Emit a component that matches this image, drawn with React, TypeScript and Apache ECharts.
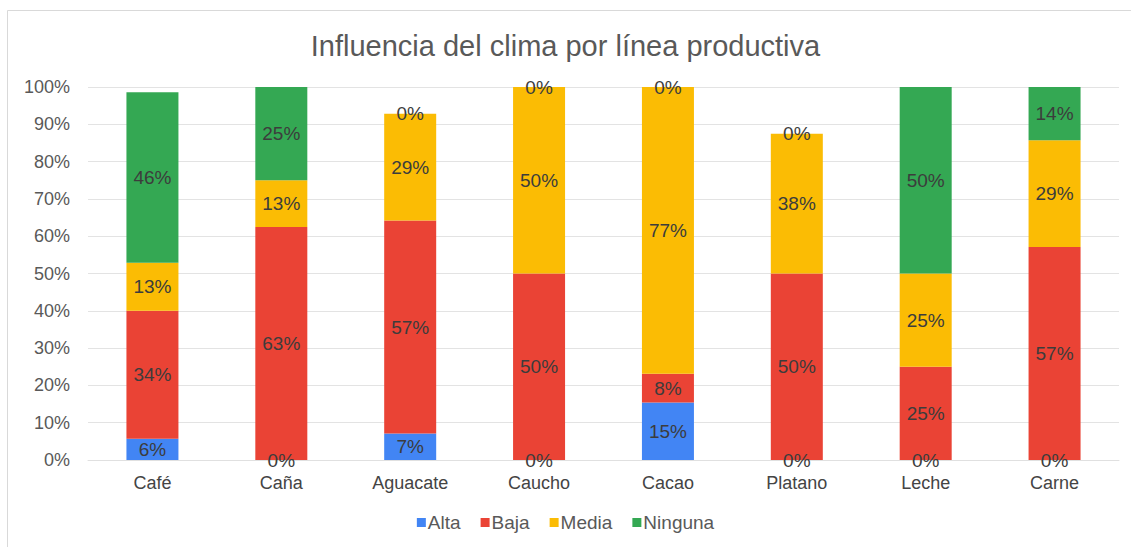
import React, { useEffect, useRef } from "react";
import * as echarts from "echarts";

// Product lines on the x axis
const categories = ["Café", "Caña", "Aguacate", "Caucho", "Cacao", "Platano", "Leche", "Carne"];

// Share of producers (%) reporting each level of climate influence
const alta = [5.7, 0, 7.1, 0, 15.4, 0, 0, 0];
const baja = [34.3, 62.5, 57.1, 50, 7.7, 50, 25, 57.1];
const media = [12.9, 12.5, 28.6, 50, 76.9, 37.5, 25, 28.6];
const ninguna = [45.7, 25, 0, 0, 0, 0, 50, 14.3];

const seriesNames = ["Alta", "Baja", "Media", "Ninguna"];
const seriesColors = ["#4285F4", "#EA4335", "#FBBC04", "#34A853"];

const FONT = "'Liberation Sans', Arial, sans-serif";

export default function App() {
  const ref = useRef<HTMLDivElement>(null);

  useEffect(() => {
    if (!ref.current) return;
    const chart = echarts.init(ref.current, null, { renderer: "svg" });
    const data = [alta, baja, media, ninguna];
    chart.setOption({
      animation: false,
      backgroundColor: "#ffffff",
      textStyle: { fontFamily: FONT },
      title: {
        text: "Influencia del clima por línea productiva",
        left: "center",
        top: 26,
        textStyle: { fontSize: 29, fontWeight: "normal", color: "#595959", fontFamily: FONT },
      },
      graphic: [
        {
          type: "rect",
          shape: { x: 7.5, y: 10.5, width: 1140, height: 560 },
          style: { fill: "none", stroke: "#d9d9d9", lineWidth: 1 },
          silent: true,
          z: -1,
        },
      ],
      legend: {
        bottom: 10,
        left: "center",
        icon: "rect",
        itemWidth: 9,
        itemHeight: 9,
        itemGap: 20,
        textStyle: { fontSize: 19, color: "#595959", fontFamily: FONT, padding: [0, 0, 0, -3] },
        data: seriesNames,
      },
      grid: { left: 88, right: 12, top: 87, bottom: 87 },
      xAxis: {
        type: "category",
        data: categories,
        axisLine: { lineStyle: { color: "#e0e0e0" } },
        axisTick: { show: false },
        axisLabel: { fontSize: 18, color: "#444444", margin: 14, fontFamily: FONT },
      },
      yAxis: {
        type: "value",
        min: 0,
        max: 100,
        interval: 10,
        axisLine: { show: false },
        axisTick: { show: false },
        axisLabel: { formatter: "{value}%", fontSize: 18, color: "#595959", margin: 18, fontFamily: FONT },
        splitLine: { lineStyle: { color: "#e3e3e3" } },
      },
      series: data.map((values, i) => ({
        name: seriesNames[i],
        type: "bar",
        stack: "total",
        barWidth: 52,
        itemStyle: { color: seriesColors[i] },
        label: {
          show: true,
          position: "inside",
          fontSize: 19,
          color: "#3c3c3c",
          fontFamily: FONT,
          formatter: (p: any) => `${Math.round(p.value)}%`,
        },
        data: values,
      })),
    });
    return () => chart.dispose();
  }, []);

  return (
    <div
      ref={ref}
      style={{ position: "fixed", left: 0, top: 0, width: 1131, height: 547 }}
    />
  );
}
